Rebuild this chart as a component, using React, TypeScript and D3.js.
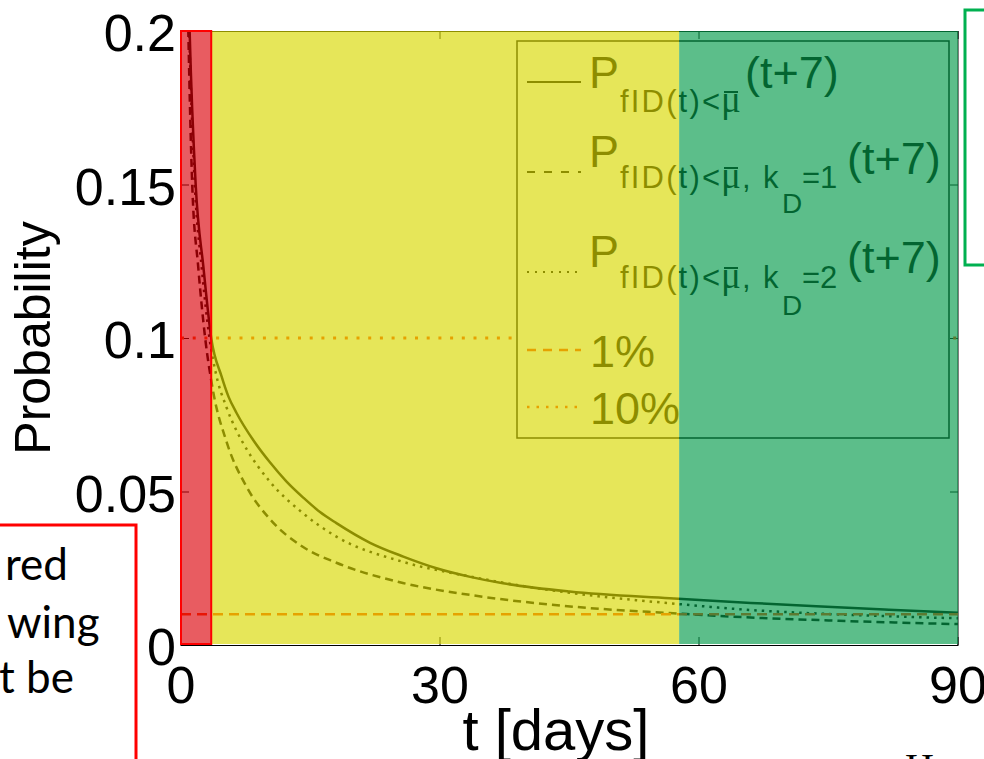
import React from 'react';
import * as d3 from 'd3';

// axis ticks
const X_TICKS = [0, 30, 60, 90];
const Y_TICKS = [0, 0.05, 0.1, 0.15, 0.2];
const Y_TICK_LABELS = ['0', '0.05', '0.1', '0.15', '0.2'];

// P_{fID(t)<mu}(t+7)
const T_BASE = [0.6, 1.0, 1.7, 2.6, 3.5, 4.7, 5.5, 6.45, 8.4, 10.3, 12.2, 14.2, 16.1, 18, 21.9, 25.75, 29.6, 33.5, 37.3, 45, 56.6, 66, 73.6, 82, 90];
const P_BASE = [0.25, 0.2, 0.15, 0.123, 0.1, 0.0875, 0.0809, 0.0755, 0.0666, 0.0595, 0.0533, 0.0479, 0.0433, 0.0397, 0.0333, 0.0288, 0.025, 0.0222, 0.0201, 0.0174, 0.0152, 0.0137, 0.0126, 0.0115, 0.0105];

// P_{fID(t)<mu, kD=1}(t+7)
const T_KD1 = [0.5, 0.85, 1.3, 2.0, 2.8, 3.7, 5.3, 7.6, 10.3, 14.1, 18, 25.7, 33.5, 41.2, 48.9, 56.6, 62, 75, 90];
const P_KD1 = [0.26, 0.2, 0.15, 0.123, 0.1, 0.083, 0.066, 0.0515, 0.041, 0.032, 0.0268, 0.0202, 0.0163, 0.0136, 0.0117, 0.0104, 0.0095, 0.008, 0.0068];

// P_{fID(t)<mu, kD=2}(t+7)
const T_KD2 = [0.55, 0.95, 1.6, 2.4, 3.3, 4.0, 5.3, 6.45, 7.6, 10.3, 14.1, 18, 25.7, 33.5, 41.2, 48.9, 56.6, 66, 75, 90];
const P_KD2 = [0.25, 0.2, 0.15, 0.123, 0.1, 0.089, 0.0772, 0.0697, 0.0638, 0.0532, 0.043, 0.0353, 0.0271, 0.0223, 0.0185, 0.0157, 0.0136, 0.0114, 0.0101, 0.0087];

// threshold levels
const LEVEL_1 = 0.01;
const LEVEL_10 = 0.1;

// shaded day ranges
const BAND_RED = [0, 3.5];
const BAND_YELLOW = [3.5, 57.7];
const BAND_GREEN = [57.7, 90];

const W = 984;
const H = 759;
const FONT = '"Liberation Sans", Arial, Helvetica, sans-serif';
const ORANGE = 'rgb(255,60,0)';

// Subscript "fID(t)<μ̄" drawn in pieces so the bar sits over the mu.
function SubMu({ x, y, size, tail }: { x: number; y: number; size: number; tail?: string }) {
  return (
    <g>
      <text x={x} y={y} fontSize={size} textLength={100} lengthAdjust="spacing">fID(t)&lt;</text>
      <text x={x + 101} y={y} fontSize={size + 6} fontFamily='"Liberation Serif", serif'>μ</text>
      <line x1={x + 104} x2={x + 118} y1={y - 20} y2={y - 20} stroke="#000" strokeWidth={2} />
      {tail ? <text x={x + 122} y={y} fontSize={size}>{tail}</text> : null}
    </g>
  );
}

export default function App() {
  const x = d3.scaleLinear().domain([0, 90]).range([181, 958]);
  const y = d3.scaleLinear().domain([0, 0.2]).range([645, 31]);

  const line = d3
    .line<[number, number]>()
    .x((d) => x(d[0]))
    .y((d) => y(d[1]))
    .curve(d3.curveMonotoneX);

  const zip = (ts: number[], ps: number[]) => ts.map((t, i) => [t, ps[i]] as [number, number]);

  const curves = [
    { d: line(zip(T_BASE, P_BASE)), dash: undefined as string | undefined },
    { d: line(zip(T_KD1, P_KD1)), dash: '8,5' },
    { d: line(zip(T_KD2, P_KD2)), dash: '2.5,5' },
  ];

  const x0 = x(0), x1 = x(90), yTop = y(0.2), yBot = y(0);
  const tick = 8;

  // legend box
  const lg = { x: 517, y: 41, w: 432, h: 397 };
  const sx0 = 527, sx1 = 581;
  const big = 45, sub = 31, sub2 = 28;

  const bandRect = (b: number[]) => ({ x: x(b[0]), w: x(b[1]) - x(b[0]) });
  const red = bandRect(BAND_RED), yel = bandRect(BAND_YELLOW), grn = bandRect(BAND_GREEN);

  return (
    <svg width={W} height={H} style={{ position: 'absolute', left: 0, top: 0, background: '#fff' }} fontFamily={FONT}>
      <defs>
        <clipPath id="plotClip">
          <rect x={x0} y={yTop} width={x1 - x0} height={yBot - yTop} />
        </clipPath>
      </defs>
      <rect x={0} y={0} width={W} height={H} fill="#fff" />

      {/* axes box and inward ticks */}
      <rect x={x0} y={yTop + 0.5} width={x1 - x0} height={yBot - yTop} fill="none" stroke="#000" strokeWidth={1} />
      {X_TICKS.map((t) => (
        <g key={'xt' + t} stroke="#000" strokeWidth={1}>
          <line x1={x(t)} x2={x(t)} y1={yBot} y2={yBot - tick} />
          <line x1={x(t)} x2={x(t)} y1={yTop} y2={yTop + tick} />
        </g>
      ))}
      {Y_TICKS.map((v) => (
        <g key={'yt' + v} stroke="#000" strokeWidth={1}>
          <line x1={x0} x2={x0 + tick} y1={y(v) + 0.5} y2={y(v) + 0.5} />
          <line x1={x1} x2={x1 - tick} y1={y(v) + 0.5} y2={y(v) + 0.5} />
        </g>
      ))}

      {/* probability curves and threshold levels */}
      <g clipPath="url(#plotClip)">
        {curves.map((c, i) => (
          <path key={i} d={c.d || ''} fill="none" stroke="#000" strokeWidth={2.5} strokeDasharray={c.dash} />
        ))}
        <line x1={x(0)} x2={x(90)} y1={y(LEVEL_1)} y2={y(LEVEL_1)} stroke={ORANGE} strokeWidth={2.5} strokeDasharray="10,6" />
        <line x1={x(0)} x2={x(90)} y1={y(LEVEL_10)} y2={y(LEVEL_10)} stroke={ORANGE} strokeWidth={3} strokeDasharray="3,8.7" />
      </g>

      {/* legend */}
      <g>
        <rect x={lg.x} y={lg.y} width={lg.w} height={lg.h} fill="#fff" stroke="#000" strokeWidth={1.5} />
        <line x1={sx0} x2={sx1} y1={82} y2={82} stroke="#000" strokeWidth={2} />
        <line x1={sx0} x2={sx1} y1={172} y2={172} stroke="#000" strokeWidth={2} strokeDasharray="8,9" />
        <line x1={sx0} x2={sx1} y1={272} y2={272} stroke="#000" strokeWidth={2} strokeDasharray="2,6" />
        <line x1={sx0} x2={sx1} y1={350} y2={350} stroke={ORANGE} strokeWidth={2.5} strokeDasharray="9,7" />
        <line x1={sx0} x2={sx1} y1={407} y2={407} stroke={ORANGE} strokeWidth={2.5} strokeDasharray="2.5,7" />

        <g fill="#000">
          <text x={589} y={88} fontSize={big}>P</text>
          <SubMu x={620} y={112} size={sub} />
          <text x={745} y={88} fontSize={big}>(t+7)</text>

          <text x={589} y={167} fontSize={big}>P</text>
          <SubMu x={620} y={188} size={sub} tail="," />
          <text x={763} y={188} fontSize={sub}>k</text>
          <text x={782} y={213} fontSize={sub2}>D</text>
          <text x={802} y={188} fontSize={sub}>=1</text>
          <text x={847} y={174} fontSize={big}>(t+7)</text>

          <text x={589} y={267} fontSize={big}>P</text>
          <SubMu x={620} y={288} size={sub} tail="," />
          <text x={763} y={288} fontSize={sub}>k</text>
          <text x={782} y={315} fontSize={sub2}>D</text>
          <text x={802} y={288} fontSize={sub}>=2</text>
          <text x={847} y={273} fontSize={big}>(t+7)</text>

          <text x={590} y={367} fontSize={big}>1%</text>
          <text x={590} y={424} fontSize={big}>10%</text>
        </g>
      </g>

      {/* shaded day bands */}
      <rect x={yel.x} y={yTop} width={yel.w} height={yBot - yTop - 1} fill="rgb(217,217,0)" fillOpacity={0.65} />
      <rect x={grn.x} y={yTop} width={grn.w} height={yBot - yTop - 1} fill="rgb(5,155,75)" fillOpacity={0.65} />
      <rect x={red.x} y={yTop} width={red.w} height={yBot - yTop - 1} fill="rgb(219,0,8)" fillOpacity={0.64} stroke="#ff0000" strokeWidth={2} />

      {/* tick labels */}
      <g fill="#000" fontSize={52}>
        {Y_TICKS.map((v, i) => (
          <text key={'yl' + v} x={176} y={y(v) + 20} textAnchor="end">{Y_TICK_LABELS[i]}</text>
        ))}
        {X_TICKS.map((t) => (
          <text key={'xl' + t} x={x(t)} y={703} textAnchor="middle">{t}</text>
        ))}
      </g>

      {/* axis labels */}
      <text x={556} y={750} fontSize={58} textAnchor="middle" fill="#000">t [days]</text>
      <text transform={`translate(50, ${(yTop + yBot) / 2}) rotate(-90)`} fontSize={50} textAnchor="middle" fill="#000">Probability</text>

      {/* callout boxes */}
      <rect x={965} y={10} width={60} height={255} fill="#fff" stroke="#00b050" strokeWidth={3} />
      <rect x={-10} y={525} width={146} height={300} fill="#fff" stroke="#ff0000" strokeWidth={3} />
      <g fontFamily="Lato, 'Open Sans', sans-serif" fontSize={44} fill="#000">
        <text x={5} y={580}>red</text>
        <text x={7} y={638}>wing</text>
        <text x={-1} y={693}>t be</text>
      </g>
      <text x={905} y={781} fontFamily='"Liberation Serif", serif' fontSize={40} fill="#000">H</text>
    </svg>
  );
}
